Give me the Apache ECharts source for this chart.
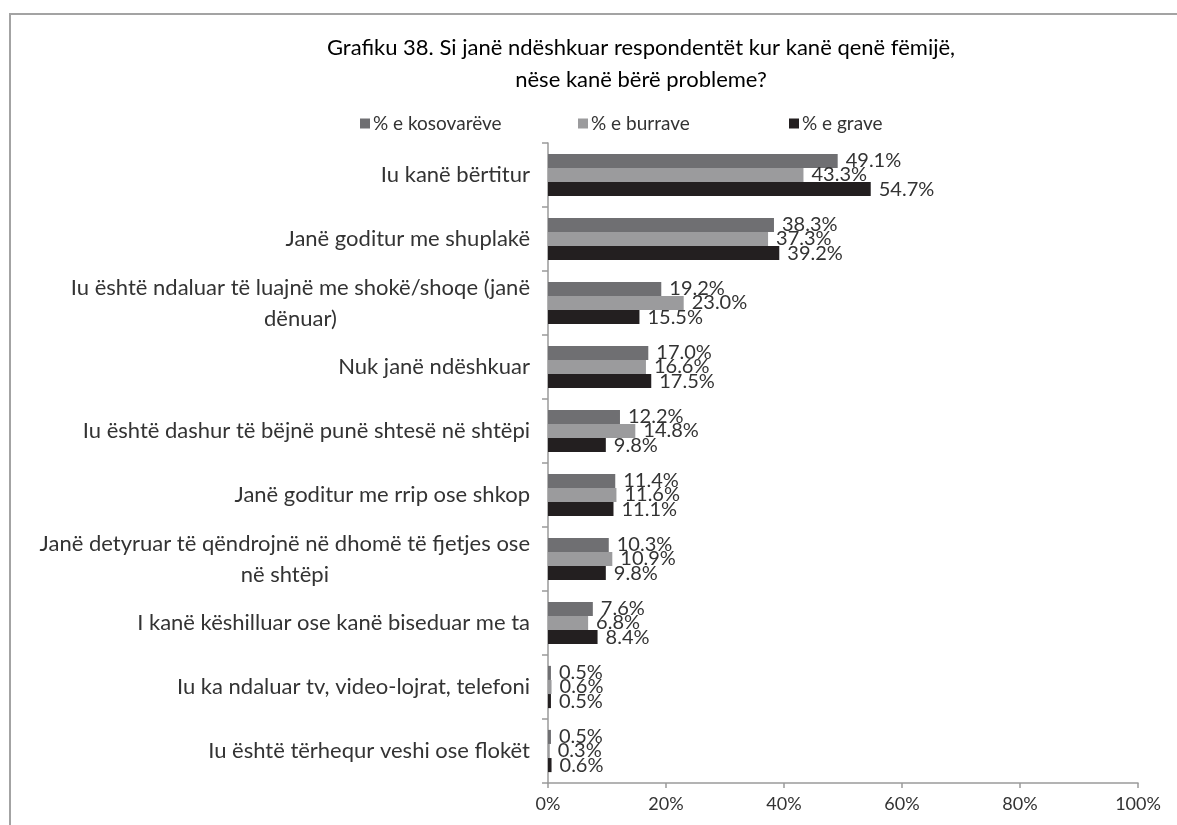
<!DOCTYPE html>
<html>
<head>
<meta charset="utf-8">
<script src="https://cdn.jsdelivr.net/npm/echarts@6/dist/echarts.min.js"></script>
<style>
  html, body { margin: 0; padding: 0; background: #fff; }
  #chart { width: 1177px; height: 825px; }
</style>
</head>
<body>
<div id="chart"></div>
<script>
/* ── Data ── */
const CATEGORIES = [
    'Iu kanë bërtitur',
    'Janë goditur me shuplakë',
    'Iu është ndaluar të luajnë me shokë/shoqe (janë\ndënuar)',
    'Nuk janë ndëshkuar',
    'Iu është dashur të bëjnë punë shtesë në shtëpi',
    'Janë goditur me rrip ose shkop',
    'Janë detyruar të qëndrojnë në dhomë të fjetjes ose\nnë shtëpi',
    'I kanë këshilluar ose kanë biseduar me ta',
    'Iu ka ndaluar tv, video-lojrat, telefoni',
    'Iu është tërhequr veshi ose flokët',
];
const KOSOVAREVE = [49.1, 38.3, 19.2, 17.0, 12.2, 11.4, 10.3, 7.6, 0.5, 0.5];
const BURRAVE    = [43.3, 37.3, 23.0, 16.6, 14.8, 11.6, 10.9, 6.8, 0.6, 0.3];
const GRAVE      = [54.7, 39.2, 15.5, 17.5, 9.8, 11.1, 9.8, 8.4, 0.5, 0.6];
const SERIES_NAMES = ['% e kosovarëve', '% e burrave', '% e grave'];
const X_TICKS = [0, 20, 40, 60, 80, 100];

/* ── Colors / fonts ── */
const COLORS = ['#6f6f72', '#9b9b9d', '#231f20'];
const FONT = 'Lato, "Open Sans", sans-serif';
const LEGEND_LEFT = [355, 573, 784];

const chart = echarts.init(document.getElementById('chart'), null, { renderer: 'canvas' });

const makeSeries = (name, data, i) => ({
    name,
    type: 'bar',
    data,
    barGap: '0%',
    barCategoryGap: '34%',
    itemStyle: { color: COLORS[i] },
    label: {
        show: true,
        position: 'right',
        distance: 8,
        fontFamily: FONT,
        fontSize: 20,
        color: '#333',
        formatter: (p) => p.value.toFixed(1) + '%',
    },
});

// one legend per item so each sits where Excel put it
const legends = SERIES_NAMES.map((name, i) => ({
    left: LEGEND_LEFT[i],
    top: 109,
    icon: 'rect',
    itemWidth: 10,
    itemHeight: 10,
    textStyle: { fontFamily: FONT, fontSize: 19, color: '#333', padding: [0, 0, 0, -2] },
    data: [name],
}));

chart.setOption({
    animation: false,
    textStyle: { fontFamily: FONT },
    title: {
        text: 'Grafiku 38. Si janë ndëshkuar respondentët kur kanë qenë fëmijë,\nnëse kanë bërë probleme?',
        left: 636,
        top: 27,
        textAlign: 'center',
        textStyle: { fontFamily: FONT, fontSize: 22, fontWeight: 'normal', color: '#000', lineHeight: 32 },
    },
    legend: legends,
    grid: { left: 548, right: 39, top: 143, bottom: 42, containLabel: false },
    xAxis: {
        type: 'value',
        min: X_TICKS[0],
        max: X_TICKS[X_TICKS.length - 1],
        interval: 20,
        axisLine: { show: true, lineStyle: { color: '#9a9a9a', width: 1.5 } },
        axisTick: { show: true, length: 5, lineStyle: { color: '#9a9a9a', width: 1.5 } },
        splitLine: { show: false },
        axisLabel: { fontFamily: FONT, fontSize: 18, color: '#333', margin: 12, formatter: '{value}%' },
    },
    yAxis: {
        type: 'category',
        inverse: true,
        data: CATEGORIES,
        axisLine: { show: true, lineStyle: { color: '#9a9a9a', width: 1.5 } },
        axisTick: { show: true, length: 6, lineStyle: { color: '#9a9a9a', width: 1.5 } },
        axisLabel: {
            fontFamily: FONT,
            fontSize: 22,
            color: '#333',
            margin: 18,
            formatter: (v) => v.split('\n').map(s => '{c|' + s + '}').join('\n'),
            rich: { c: { align: 'center', fontFamily: FONT, fontSize: 22, color: '#333', lineHeight: 31 } },
        },
    },
    graphic: [
        {
            type: 'polyline',
            shape: { points: [[1177, 14], [10, 14], [10, 825]] },
            style: { stroke: '#a3a3a3', lineWidth: 2, fill: null },
            silent: true,
        },
    ],
    series: [
        makeSeries(SERIES_NAMES[0], KOSOVAREVE, 0),
        makeSeries(SERIES_NAMES[1], BURRAVE, 1),
        makeSeries(SERIES_NAMES[2], GRAVE, 2),
    ],
});
</script>
</body>
</html>
